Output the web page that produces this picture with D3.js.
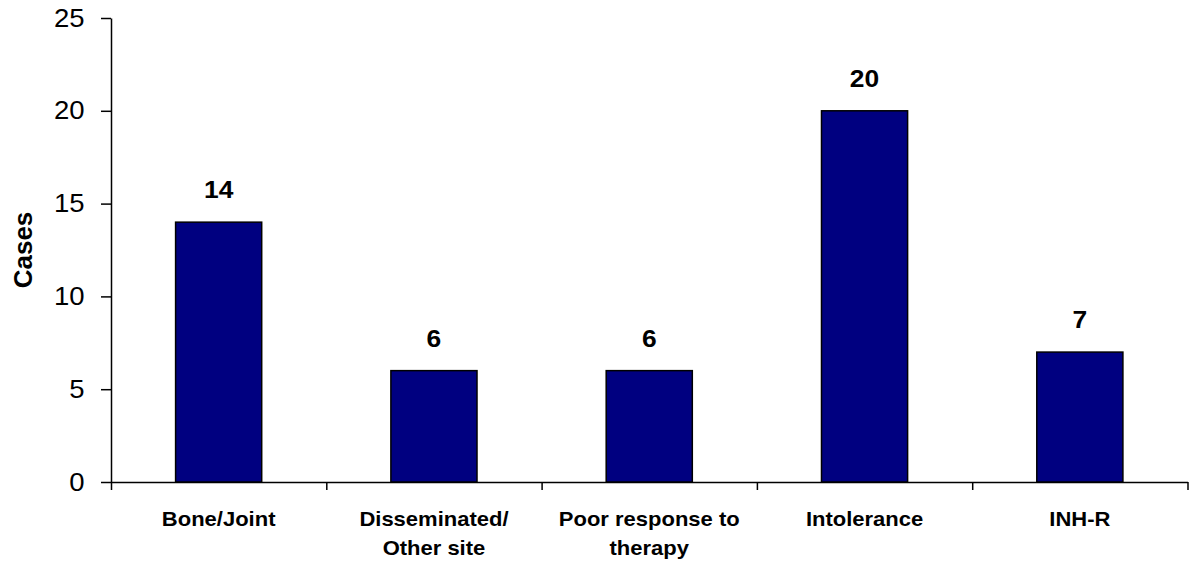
<!DOCTYPE html>
<html>
<head>
<meta charset="utf-8">
<script src="https://cdn.jsdelivr.net/npm/d3@7/dist/d3.min.js"></script>
<style>
  html, body { margin: 0; padding: 0; background: #fff; }
  svg text { font-family: "Liberation Sans", Arial, Helvetica, sans-serif; fill: #000; }
</style>
</head>
<body>
<svg id="chart" width="1193" height="566"></svg>
<script>
// Reasons for treatment, with line breaks used in the axis labels
const categories = ["Bone/Joint", "Disseminated/\nOther site", "Poor response to\ntherapy", "Intolerance", "INH-R"];
const cases = [14, 6, 6, 20, 7];
const yTicks = [0, 5, 10, 15, 20, 25];
const yLabel = "Cases";

const svg = d3.select("#chart");
const plot = { left: 111, right: 1187.5, top: 18, bottom: 482 };
const stretch = "scale(1.1,1)";

const x = d3.scaleBand()
  .domain(categories)
  .range([plot.left, plot.right])
  .paddingInner(0.6)
  .paddingOuter(0.3);

const y = d3.scaleLinear().domain([0, 25]).range([plot.bottom, plot.top]);

// Y axis
const yAxis = svg.append("g")
  .attr("transform", `translate(${plot.left},0)`)
  .call(d3.axisLeft(y).tickValues(yTicks).tickSize(10).tickSizeOuter(0).tickPadding(14));
yAxis.select(".domain").attr("stroke", "#000").attr("stroke-width", 1.5);
yAxis.selectAll(".tick line").attr("stroke", "#000").attr("stroke-width", 1.5);
yAxis.selectAll(".tick text")
  .attr("font-size", 25)
  .attr("font-family", null)
  .attr("transform", stretch);

// X axis: ticks at category boundaries
const edges = d3.range(categories.length + 1);
const xEdge = d3.scaleLinear().domain([0, categories.length]).range([plot.left, plot.right]);
const xAxis = svg.append("g")
  .attr("transform", `translate(0,${plot.bottom})`)
  .call(d3.axisBottom(xEdge).tickValues(edges).tickFormat("").tickSize(8).tickSizeOuter(0));
xAxis.select(".domain").attr("stroke", "#000").attr("stroke-width", 1.5);
xAxis.selectAll(".tick line").attr("stroke", "#000").attr("stroke-width", 1.5);

// Bars
svg.append("g").selectAll("rect")
  .data(cases)
  .join("rect")
  .attr("x", (d, i) => x(categories[i]))
  .attr("y", d => y(d))
  .attr("width", x.bandwidth())
  .attr("height", d => y(0) - y(d))
  .attr("fill", "#000080")
  .attr("stroke", "#000")
  .attr("stroke-width", 1.5);

// Value labels
svg.append("g").selectAll("text")
  .data(cases)
  .join("text")
  .attr("transform", (d, i) => `translate(${x(categories[i]) + x.bandwidth() / 2},${y(d) - 24}) ${stretch}`)
  .attr("text-anchor", "middle")
  .attr("font-size", 24)
  .attr("font-weight", "bold")
  .text(d => d);

// Category labels
const catLabels = svg.append("g").selectAll("text")
  .data(categories)
  .join("text")
  .attr("transform", d => `translate(${x(d) + x.bandwidth() / 2},526) ${stretch}`)
  .attr("text-anchor", "middle")
  .attr("font-size", 20)
  .attr("font-weight", "bold");
catLabels.each(function(d) {
  const t = d3.select(this);
  d.split("\n").forEach((line, k) => {
    t.append("tspan").attr("x", 0).attr("y", k * 29).text(line);
  });
});

// Y axis title
svg.append("text")
  .attr("transform", `translate(32,${(plot.top + plot.bottom) / 2}) rotate(-90)`)
  .attr("text-anchor", "middle")
  .attr("font-size", 26)
  .attr("font-weight", "bold")
  .text(yLabel);
</script>
</body>
</html>
